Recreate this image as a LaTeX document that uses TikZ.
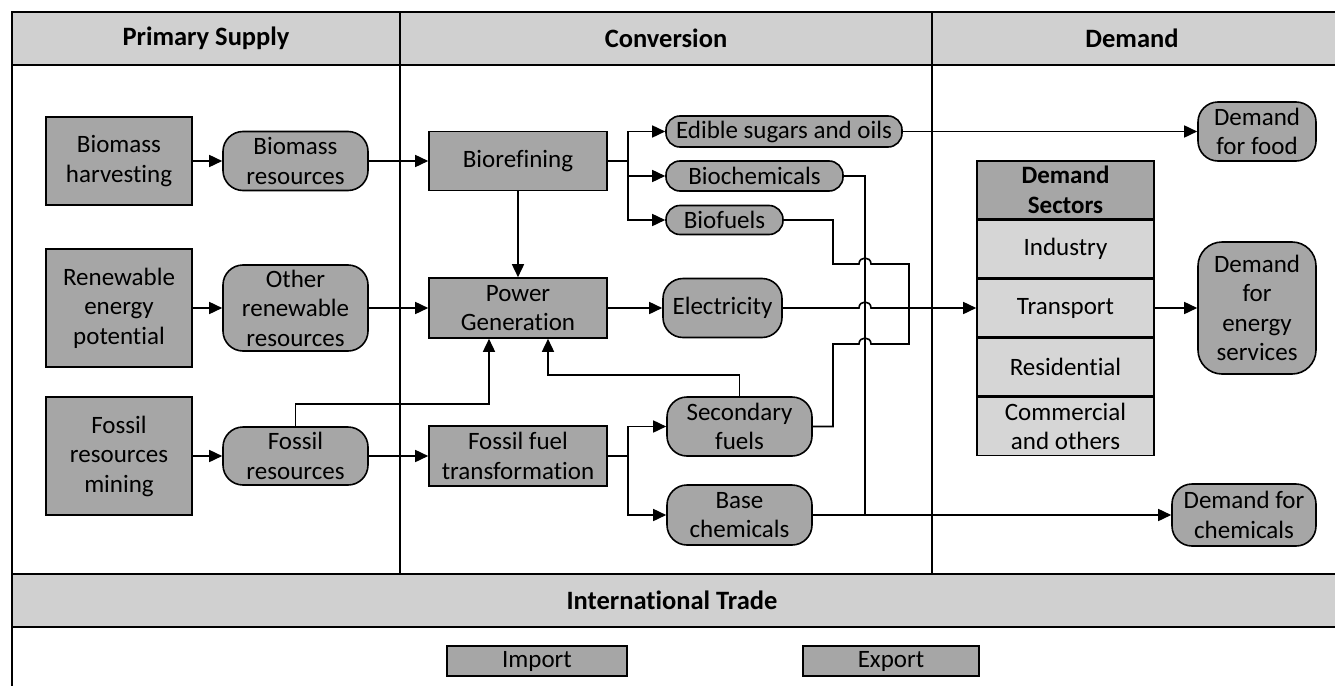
\documentclass[tikz,border=0pt]{standalone}
\usepackage{fontspec}
\setmainfont{Carlito}[Ligatures=NoCommon]
\usetikzlibrary{arrows.meta,calc}
\definecolor{boxgray}{HTML}{A6A6A6}
\definecolor{hdrgray}{HTML}{D0D0D0}
\definecolor{rowgray}{HTML}{D6D6D6}
\begin{document}
\begin{tikzpicture}[x=1pt,y=-1pt,
  line width=1.6pt,
  txt/.style={font=\fontsize{25}{29.5}\selectfont},
  base/.style={draw=black, fill=boxgray, align=center, inner sep=0pt, txt},
  rbox/.style={base, rectangle},
  pill/.style={base, rounded corners=20pt},
  spill/.style={base, rounded corners=14pt},
  hdr/.style={font=\bfseries\fontsize{26.5}{30}\selectfont},
  row/.style={draw=black, fill=rowgray, align=center, inner sep=0pt, txt, minimum width=177pt, minimum height=58pt},
  arr/.style={-{Triangle[length=13pt,width=12pt]}},
]
\useasboundingbox (0,0) rectangle (1335,685);
% frame and headers
\fill[white] (0,0) rectangle (1335,685);
\draw[fill=hdrgray] (1336,12) -- (12,12) -- (12,65) -- (1336,65);
\draw[fill=hdrgray] (1336,574) -- (12,574) -- (12,627) -- (1336,627);
\draw (12,65) -- (12,574);
\draw (12,627) -- (12,686);
\draw (400,12) -- (400,574);
\draw (932,12) -- (932,574);
\node[hdr] (h1) at (206,38.5) {Primary Supply};
\node[hdr] (h2) at (666,38.5) {Conversion};
\node[hdr] (h3) at (1132,38.5) {Demand};
\node[hdr] (h4) at (672,600.5) {International Trade};

% primary supply
\node[rbox, minimum width=146pt, minimum height=88pt] (bh) at (119,161) {Biomass\\harvesting};
\node[pill, minimum width=145pt, minimum height=59pt] (br) at (295.5,161) {Biomass\\resources};
\node[rbox, minimum width=146pt, minimum height=118pt] (rep) at (119,308) {Renewable\\energy\\potential};
\node[pill, minimum width=145pt, minimum height=86pt] (orr) at (295.5,308) {Other\\renewable\\resources};
\node[rbox, minimum width=146pt, minimum height=118pt] (frm) at (119,456) {Fossil\\resources\\mining};
\node[pill, minimum width=145pt, minimum height=58pt] (fr) at (295.5,456) {Fossil\\resources};

% conversion
\node[rbox, minimum width=178pt, minimum height=59pt] (bio) at (518,161) {Biorefining};
\node[rbox, minimum width=178pt, minimum height=60pt] (pg) at (518,308) {Power\\Generation};
\node[rbox, minimum width=178pt, minimum height=60pt] (fft) at (518,456) {Fossil fuel\\transformation};
\node[spill, minimum width=236pt, minimum height=31pt] (eso) at (784,131.5) {Edible sugars and oils};
\node[spill, minimum width=177pt, minimum height=30pt] (bc) at (754.5,176) {Biochemicals};
\node[spill, minimum width=117pt, minimum height=29pt] (bf) at (724.5,220) {Biofuels};
\node[pill, minimum width=119pt, minimum height=59pt] (el) at (722.5,308) {Electricity};
\node[pill, minimum width=145pt, minimum height=59pt] (sf) at (739.5,426.5) {Secondary\\fuels};
\node[pill, minimum width=145pt, minimum height=60pt] (bch) at (739.5,515) {Base\\chemicals};

% demand
\node[pill, minimum width=118pt, minimum height=59pt] (dff) at (1257,131.5) {Demand\\for food};
\node[pill, rounded corners=24pt, minimum width=118pt, minimum height=132pt] (des) at (1257,308) {Demand\\for\\energy\\services};
\node[pill, minimum width=144pt, minimum height=62pt] (dfc) at (1244,515) {Demand for\\chemicals};
\node[draw=black, fill=boxgray, align=center, inner sep=0pt, minimum width=177pt, minimum height=58pt, font=\bfseries\fontsize{25}{29.5}\selectfont] (dsh) at (1065.5,190) {Demand\\Sectors};
\node[row] (ind) at (1065.5,249) {Industry};
\node[row] (tr) at (1065.5,308) {Transport};
\node[row] (res) at (1065.5,367) {Residential};
\node[row] (com) at (1065.5,426.5) {Commercial\\and others};

% trade
\node[rbox, minimum width=180pt, minimum height=30pt] (imp) at (537,661) {Import};
\node[rbox, minimum width=176pt, minimum height=30pt] (exp) at (891,661) {Export};

% connectors
\draw[arr] (bh.east) -- (bh.east -| br.west);
\draw[arr] (br.east) -- (br.east -| bio.west);
\draw[arr] (rep.east) -- (rep.east -| orr.west);
\draw[arr] (orr.east) -- (orr.east -| pg.west);
\draw[arr] (frm.east) -- (frm.east -| fr.west);
\draw[arr] (fr.east) -- (fr.east -| fft.west);
\coordinate (k1) at (489,404);
\draw[arr] (fr.north) |- (k1) -- (k1 |- pg.south);
\draw[arr] (bio.south) -- (pg.north);
\coordinate (f1) at (628,161);
\draw (bio.east) -- (f1);
\draw[arr] (f1) |- (eso.west);
\draw[arr] (f1) |- (bc.west);
\draw[arr] (f1) |- (bf.west);
\draw[arr] (pg.east) -- (pg.east -| el.west);
\coordinate (f2) at (628,456);
\draw (fft.east) -- (f2);
\draw[arr] (f2) |- (sf.west);
\draw[arr] (f2) |- (bch.west);
\coordinate (k2) at (548,375);
\draw[arr] (sf.north) |- (k2) -- (k2 |- pg.south);
\draw[arr] (eso.east) -- (eso.east -| dff.west);
\coordinate (jx) at (865,515);
\draw (bc.east) -| (jx);
\draw[arr] (bch.east) -- (bch.east -| dfc.west);
\coordinate (m1) at (909,264);
\coordinate (m2) at (909,344);
\draw (bf.east) -| (833,264) -- (859,264) .. controls (859,256) and (871,256) .. (871,264) -- (m1) -- (m1 |- el.east);
\draw (sf.east) -| (833,344) -- (859,344) .. controls (859,336) and (871,336) .. (871,344) -- (m2) -- (m2 |- el.east);
\draw[arr] (el.east) -- (859,308) .. controls (859,300) and (871,300) .. (871,308) -- (tr.west);
\draw[arr] (tr.east) -- (tr.east -| des.west);
\end{tikzpicture}
\end{document}
